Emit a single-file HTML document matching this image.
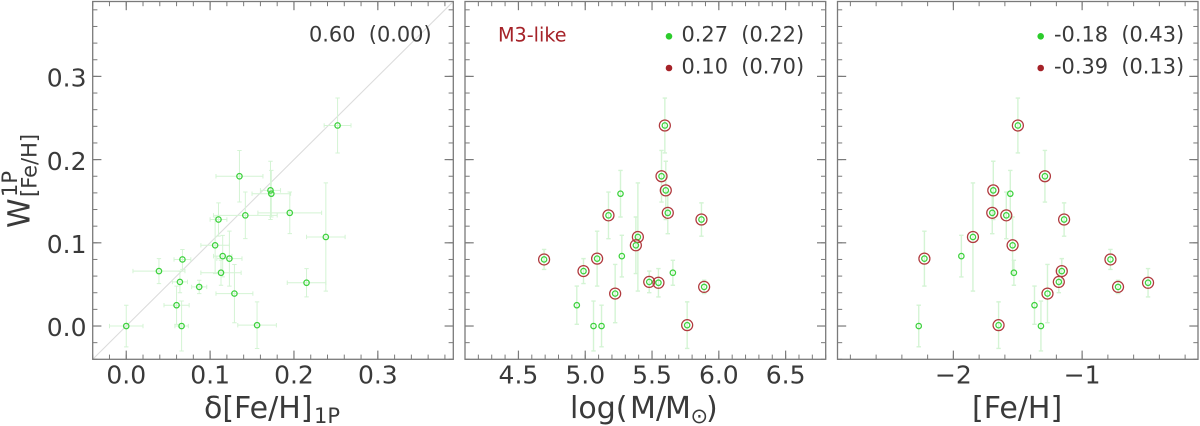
<!DOCTYPE html>
<html lang="en">
<head>
<meta charset="utf-8">
<title>Metallicity spread correlations</title>
<style>
  html, body { margin: 0; padding: 0; background: #fff; }
  #figure { display: block; width: 1200px; height: 426px; font-family: "DejaVu Sans", "Liberation Sans", sans-serif; }
  text { fill: #3a3a3a; white-space: pre; }
  .tick-label { font-size: 25px; }
  .axis-label { font-size: 30px; }
  .stat { font-size: 20.9px; }
</style>
</head>
<body>
<svg id="figure" xmlns="http://www.w3.org/2000/svg" width="1200" height="426" viewBox="0 0 1200 426">
  <defs>
    <clipPath id="clip-a"><rect x="92.7" y="1.5" width="360.6" height="357.8"/></clipPath>
    <clipPath id="clip-b"><rect x="465" y="1.5" width="360.7" height="357.8"/></clipPath>
    <clipPath id="clip-c"><rect x="837.5" y="1.5" width="360.5" height="357.8"/></clipPath>
  </defs>
  <g id="panel-a"></g>
  <g id="panel-b"></g>
  <g id="panel-c"></g>

  <text class="stat" x="309" y="41.7">0.60  (0.00)</text>

  <text x="498" y="41.7" font-size="19.2px" style="fill:#a52228">M3-like</text>
  <circle cx="669" cy="36.3" r="3.3" fill="#2ccc2c"/>
  <text class="stat" x="681.5" y="41.7">0.27  (0.22)</text>
  <circle cx="669" cy="68" r="3.3" fill="#a52228"/>
  <text class="stat" x="681.5" y="73.3">0.10  (0.70)</text>

  <circle cx="1040.7" cy="36.3" r="3.3" fill="#2ccc2c"/>
  <text class="stat" x="1054" y="41.7">-0.18  (0.43)</text>
  <circle cx="1040.7" cy="68" r="3.3" fill="#a52228"/>
  <text class="stat" x="1054" y="73.3">-0.39  (0.13)</text>

  <g>
    <text transform="translate(29.3 228) rotate(-90)" font-size="30px">W</text>
    <text transform="translate(17 197) rotate(-90)" font-size="21px">1P</text>
    <text transform="translate(36.7 197) rotate(-90)" font-size="21px">[Fe/H]</text>
  </g>
  <g>
    <text class="axis-label" x="204" y="418">δ[Fe/H]</text>
    <text x="314" y="423" font-size="21px">1P</text>
  </g>
  <g>
    <text class="axis-label" x="570" y="418">log(</text>
    <text class="axis-label" x="630" y="418">M</text>
    <text class="axis-label" x="656" y="418">/</text>
    <text class="axis-label" x="665" y="418">M</text>
    <text x="690.5" y="423" font-size="21px">⊙</text>
    <text class="axis-label" x="706" y="418">)</text>
  </g>
  <text class="axis-label" x="972" y="418">[Fe/H]</text>
</svg>
<script>
const wFeH = [0.241,0.180,0.163,0.159,0.136,0.133,0.128,0.107,0.097,0.084,0.081,0.080,0.066,0.064,0.053,0.052,0.047,0.039,0.025,0.000,0.000,0.001];
const wFeHErr = [0.033,0.031,0.035,0.028,0.025,0.028,0.020,0.065,0.034,0.025,0.033,0.012,0.015,0.015,0.013,0.017,0.008,0.035,0.023,0.025,0.030,0.028];
const deltaFe = [0.252,0.135,0.172,0.173,0.195,0.142,0.110,0.238,0.106,0.115,0.123,0.067,0.039,0.113,0.064,0.215,0.087,0.129,0.060,0.000,0.066,0.156];
const deltaFeErr = [0.016,0.028,0.012,0.023,0.038,0.038,0.010,0.023,0.017,0.011,0.015,0.010,0.031,0.024,0.009,0.023,0.009,0.022,0.015,0.020,0.008,0.023];
const logMass = [5.596,5.571,5.603,5.264,5.618,5.174,5.870,5.394,5.379,5.274,5.089,4.692,4.987,5.656,5.479,5.548,5.890,5.224,4.937,5.122,5.062,5.763];
const feH = [-1.499,-1.289,-1.690,-1.558,-1.698,-1.589,-1.140,-1.848,-1.540,-1.938,-2.225,-0.780,-1.158,-1.530,-1.181,-0.488,-0.721,-1.269,-1.370,-2.269,-1.320,-1.649];
const isM3Like = [1,1,1,0,1,1,1,1,1,0,1,1,1,0,1,1,1,1,0,0,0,1];
const yTickValues = [0,0.1,0.2,0.3];
const yTickLabels = ['0.0','0.1','0.2','0.3'];
const xTickValuesA = [0,0.1,0.2,0.3];
const xTickLabelsA = ['0.0','0.1','0.2','0.3'];
const xTickValuesB = [4.5,5,5.5,6,6.5];
const xTickLabelsB = ['4.5','5.0','5.5','6.0','6.5'];
const xTickValuesC = [-2,-1];
const xTickLabelsC = ['−2','−1'];
const oneToOne = [-0.04,0.39];

const NS = 'http://www.w3.org/2000/svg';
const top_ = 1.5, bottom_ = 359.3, yMin = -0.04, yMax = 0.39;
const yAxis = v => bottom_ - (v - yMin) / (yMax - yMin) * (bottom_ - top_);
const AXIS = '#7a7a7a', GREEN = '#3ed23e', BAR = '#d4f4d4', RED = '#b03a3e';

function make(parent, tag, attrs) {
  const el = document.createElementNS(NS, tag);
  for (const k in attrs) el.setAttribute(k, attrs[k]);
  parent.appendChild(el);
  return el;
}
function rangeSteps(lo, hi, step, anchor) {
  const out = [];
  const n0 = Math.ceil((lo - anchor) / step - 1e-9), n1 = Math.floor((hi - anchor) / step + 1e-9);
  for (let n = n0; n <= n1; n++) out.push(anchor + n * step);
  return out;
}
function tickLine(g, x1, y1, x2, y2, w) {
  const t = make(g, 'line', { x1, y1, x2, y2, stroke: AXIS, 'stroke-width': w });
  
  
}
function drawPanel(cfg) {
  const g = document.getElementById(cfg.id);
  const xAxis = v => cfg.left + (v - cfg.xMin) / (cfg.xMax - cfg.xMin) * (cfg.right - cfg.left);
  const marks = make(g, 'g', { 'clip-path': 'url(#' + cfg.clip + ')' });
  
  

  if (cfg.refLine) {
    const ref = make(marks, 'line', { x1: xAxis(oneToOne[0]), y1: yAxis(oneToOne[0]), x2: xAxis(oneToOne[1]), y2: yAxis(oneToOne[1]), stroke: '#dcdcdc', 'stroke-width': 1.1 });
    
    
  }

  cfg.xs.forEach((xv, i) => {
    const px = xAxis(xv), py = yAxis(wFeH[i]);
    const y0 = yAxis(wFeH[i] - wFeHErr[i]), y1 = yAxis(wFeH[i] + wFeHErr[i]);
    const bar = make(marks, 'path', {
      d: 'M' + px + ' ' + y0 + 'V' + y1 + 'M' + (px - 2.2) + ' ' + y0 + 'h4.4M' + (px - 2.2) + ' ' + y1 + 'h4.4',
      fill: 'none', stroke: BAR, 'stroke-width': cfg.barWidth
    });
    
    
    if (cfg.xErr) {
      const x0 = xAxis(xv - cfg.xErr[i]), x1 = xAxis(xv + cfg.xErr[i]);
      const hbar = make(marks, 'path', {
        d: 'M' + x0 + ' ' + py + 'H' + x1 + 'M' + x0 + ' ' + (py - 2.2) + 'v4.4M' + x1 + ' ' + (py - 2.2) + 'v4.4',
        fill: 'none', stroke: BAR, 'stroke-width': cfg.barWidth
      });
      
      
    }
  });
  cfg.xs.forEach((xv, i) => {
    const px = xAxis(xv), py = yAxis(wFeH[i]);
    if (cfg.rings && isM3Like[i]) {
      const ring = make(marks, 'circle', { cx: px, cy: py, r: 5.5, fill: 'none', stroke: RED, 'stroke-width': 1.25 });
      
      
    }
    const dot = make(marks, 'circle', { cx: px, cy: py, r: 2.7, fill: 'none', stroke: GREEN, 'stroke-width': 1.25 });
    
    
  });

  rangeSteps(cfg.xMin, cfg.xMax, cfg.xMinor, cfg.xTicks[0]).forEach(v => {
    const p = xAxis(v);
    tickLine(g, p, bottom_, p, bottom_ - 4.7, 1);
    tickLine(g, p, top_, p, top_ + 4.7, 1);
  });
  rangeSteps(yMin, yMax, 0.02, 0).forEach(v => {
    const p = yAxis(v);
    tickLine(g, cfg.left, p, cfg.left + 4.7, p, 1);
    tickLine(g, cfg.right, p, cfg.right - 4.7, p, 1);
  });
  cfg.xTicks.forEach((v, i) => {
    const p = xAxis(v);
    tickLine(g, p, bottom_, p, bottom_ - 8.7, 1.2);
    tickLine(g, p, top_, p, top_ + 8.7, 1.2);
    const label = make(g, 'text', { x: p, y: 383.5, 'text-anchor': 'middle', class: 'tick-label' });
    label.textContent = cfg.xLabels[i];
    
    
  });
  yTickValues.forEach((v, i) => {
    const p = yAxis(v);
    tickLine(g, cfg.left, p, cfg.left + 8.7, p, 1.2);
    tickLine(g, cfg.right, p, cfg.right - 8.7, p, 1.2);
    if (cfg.yLabels) {
      const label = make(g, 'text', { x: 86.5, y: p + 10.2, 'text-anchor': 'end', class: 'tick-label' });
      label.textContent = yTickLabels[i];
      
      
    }
  });
  const frame = make(g, 'rect', { x: cfg.left, y: top_, width: cfg.right - cfg.left, height: bottom_ - top_, fill: 'none', stroke: AXIS, 'stroke-width': 1.3 });
  
  
}

drawPanel({ id: 'panel-a', clip: 'clip-a', left: 92.7, right: 453.3, xMin: -0.04, xMax: 0.39, xs: deltaFe, xErr: deltaFeErr, xTicks: xTickValuesA, xLabels: xTickLabelsA, xMinor: 0.02, yLabels: true, refLine: true, rings: false, barWidth: 1 });
drawPanel({ id: 'panel-b', clip: 'clip-b', left: 465, right: 825.7, xMin: 4.1, xMax: 6.8, xs: logMass, xErr: null, xTicks: xTickValuesB, xLabels: xTickLabelsB, xMinor: 0.1, yLabels: false, refLine: false, rings: true, barWidth: 1.4 });
drawPanel({ id: 'panel-c', clip: 'clip-c', left: 837.5, right: 1198, xMin: -2.9, xMax: -0.1, xs: feH, xErr: null, xTicks: xTickValuesC, xLabels: xTickLabelsC, xMinor: 0.2, yLabels: false, refLine: false, rings: true, barWidth: 1.4 });
</script>
</body>
</html>
